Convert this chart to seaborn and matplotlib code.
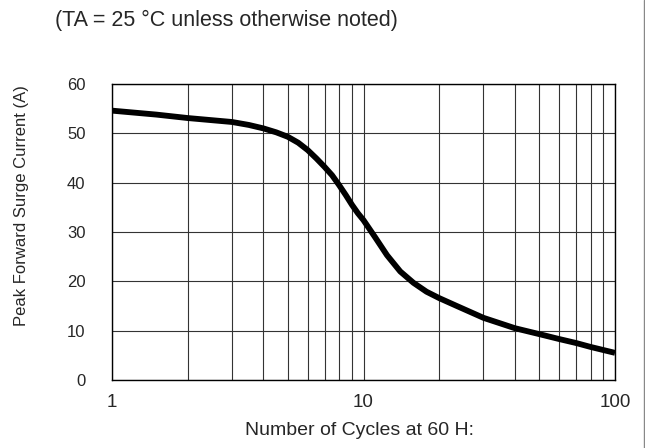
import matplotlib
matplotlib.use('Agg')
import matplotlib.pyplot as plt
from matplotlib.lines import Line2D
from matplotlib.ticker import FixedLocator, NullFormatter
import seaborn as sns
import pandas as pd

# 곡선 데이터
cycles = [1, 1.5, 2, 3, 3.5, 4, 4.5, 5, 5.5, 6, 6.5, 7, 7.5, 8, 8.5, 9, 9.5,
          10, 11.1, 12.4, 14, 15.8, 17.8, 20, 23.5, 30, 40, 50, 60, 70, 80, 100]
current = [54.6, 53.8, 53.1, 52.3, 51.7, 51.0, 50.2, 49.3, 48.1, 46.6, 44.9,
           43.2, 41.5, 39.5, 37.5, 35.5, 33.8, 32.4, 29.0, 25.3, 22.0, 19.7,
           17.9, 16.6, 15.0, 12.6, 10.5, 9.3, 8.3, 7.5, 6.7, 5.5]

x_ticks = [1, 10, 100]
x_tick_labels = ['1', '10', '100']
y_ticks = [0, 10, 20, 30, 40, 50, 60]

title_text = '(TA = 25 °C unless otherwise noted)'
x_label = 'Number of Cycles at 60 H:'
y_label = 'Peak Forward Surge Current (A)'

sns.set_style('white')
plt.rcParams['font.family'] = ['Liberation Sans', 'DejaVu Sans']

df = pd.DataFrame({'cycles': cycles, 'current': current})

fig = plt.figure(figsize=(6.45, 4.48), dpi=100)
ax = fig.add_axes([112 / 645, 1 - 380 / 448, 503 / 645, 296 / 448])

sns.lineplot(data=df, x='cycles', y='current', ax=ax, color='black',
             linewidth=4.2, solid_capstyle='butt', solid_joinstyle='round')

ax.set_xscale('log')
ax.set_xlim(1, 100)
ax.set_ylim(0, 60)

ax.xaxis.set_major_locator(FixedLocator(x_ticks))
ax.set_xticklabels(x_tick_labels)
minor = [m * d for d in (1, 10) for m in range(2, 10)]
ax.xaxis.set_minor_locator(FixedLocator(minor))
ax.xaxis.set_minor_formatter(NullFormatter())
ax.set_yticks(y_ticks)

ax.grid(True, which='both', axis='x', color='#333333', linewidth=0.8)
ax.grid(True, which='major', axis='y', color='#333333', linewidth=0.8)

ax.tick_params(axis='x', which='both', length=0, labelsize=13.5, pad=10)
ax.tick_params(axis='y', length=0, labelsize=12, pad=19)

for s in ax.spines.values():
    s.set_color('black')
    s.set_linewidth(1.0)

ax.set_xlabel(x_label, fontsize=14)
ax.set_ylabel(y_label, fontsize=12)
ax.xaxis.set_label_coords(0.493, -0.172)
ax.xaxis.label.set_va('center')
ax.yaxis.set_label_coords(-0.179, 0.588)
ax.yaxis.label.set_va('center')

fig.text(55 / 645, 1 - 20 / 448, title_text, ha='left', va='center',
         fontsize=15.5)

# 오른쪽 테두리 선
fig.add_artist(Line2D([643.5 / 645, 643.5 / 645], [0, 1],
                      transform=fig.transFigure, color='#888888',
                      linewidth=1.0))

plt.savefig('out.png', dpi=100)
plt.close()
